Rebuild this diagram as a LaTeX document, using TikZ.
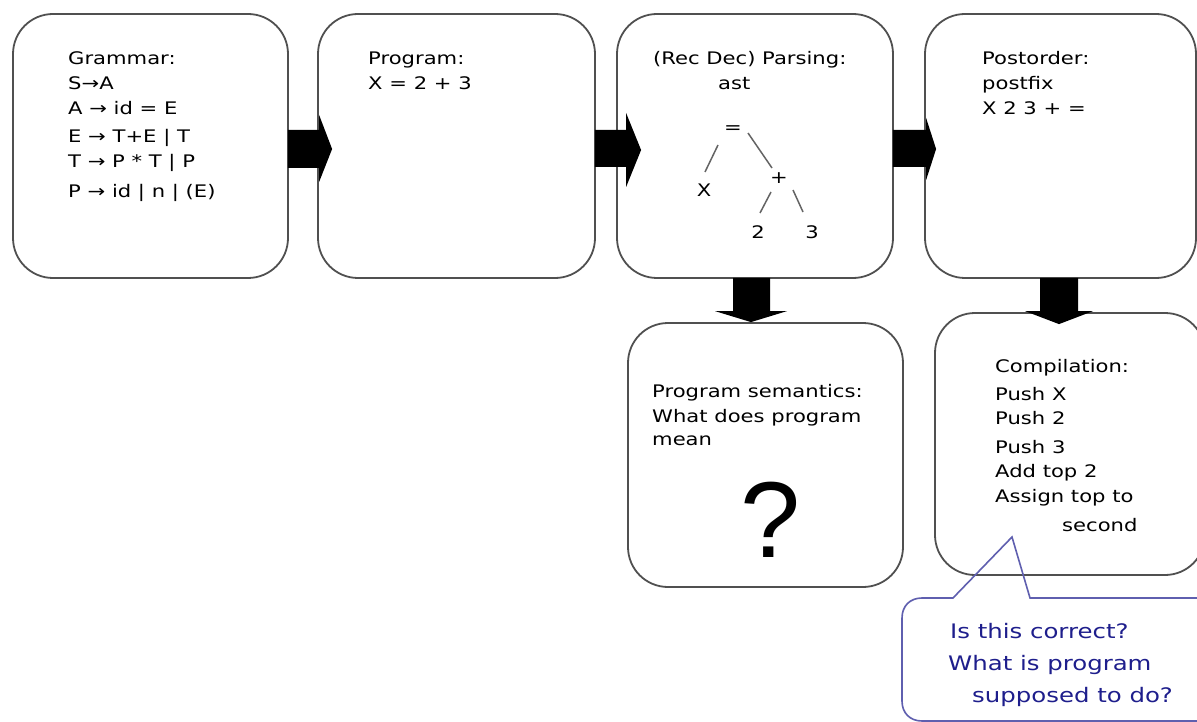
\documentclass[tikz,border=0pt]{standalone}
\usepackage{fontspec}
\setmainfont{DejaVu Sans}[FakeStretch=1.22]
\newfontfamily\qfont{Liberation Sans}
\usetikzlibrary{calc}
\definecolor{boxline}{RGB}{80,80,80}
\definecolor{treeline}{RGB}{100,100,100}
\definecolor{bubbleline}{RGB}{95,95,175}
\definecolor{bubbletext}{RGB}{30,30,140}
\begin{document}
\begin{tikzpicture}[x=1pt,y=-1pt,
 box/.style={draw=boxline, line width=1.8pt, rounded corners=40pt, inner sep=0pt},
 txt/.style={anchor=base west, inner sep=0pt, font=\fontsize{17.3}{20}\selectfont},
 tlab/.style={inner sep=0pt, font=\fontsize{17.3}{20}\selectfont},
 tedge/.style={draw=treeline, line width=1.5pt},
 blockarrow/.style={fill=black},
 bubble/.style={draw=bubbleline, line width=1.6pt},
 btxt/.style={anchor=base west, inner sep=0pt, text=bubbletext, font=\fontsize{20}{24}\selectfont}]
\useasboundingbox (0,0) rectangle (1197,722);
\clip (0,0) rectangle (1197,722);
\fill[white] (0,0) rectangle (1197,722);

% boxes
\node[box, minimum width=275pt, minimum height=264pt] (b1) at (150.5,146) {};
\node[box, minimum width=277pt, minimum height=264pt] (b2) at (456.5,146) {};
\node[box, minimum width=276pt, minimum height=264pt] (b3) at (755,146) {};
\node[box, minimum width=271pt, minimum height=264pt] (b4) at (1060.5,146) {};
\node[box, minimum width=275pt, minimum height=264pt] (b5) at (765.5,455) {};
\node[box, minimum width=270pt, minimum height=262pt] (b6) at (1070,444) {};

% box 1 text
\node[txt] (g1) at (68,65) {Grammar:};
\node[txt] (g2) at (68,90) {S→A};
\node[txt] (g3) at (68,115) {A → id = E};
\node[txt] (g4) at (68,143) {E → T+E | T};
\node[txt] (g5) at (68,168) {T → P * T | P};
\node[txt] (g6) at (68,198) {P → id | n | (E)};

% box 2 text
\node[txt] (p1) at (368,65) {Program:};
\node[txt] (p2) at (368,90) {X = 2 + 3};

% box 3 text and tree
\node[txt] (r1) at (653,65) {(Rec Dec) Parsing:};
\node[txt] (r2) at (718,90) {ast};
\node[tlab] (eq) at (733,130) {=};
\node[tlab] (tx) at (704,190) {X};
\node[tlab] (pl) at (779,178) {+};
\node[tlab] (t2) at (758,232) {2};
\node[tlab] (t3) at (812,232) {3};
\draw[tedge] ($(eq)+(-15,15)$) -- ($(tx)+(1,-18)$);
\draw[tedge] ($(eq)+(15,3)$) -- ($(pl)+(-7,-10)$);
\draw[tedge] ($(pl)+(-8,14)$) -- ($(t2)+(2,-19)$);
\draw[tedge] ($(pl)+(14,12)$) -- ($(t3)+(-9,-20)$);

% box 4 text
\node[txt] (q1) at (982,65) {Postorder:};
\node[txt] (q2) at (982,90) {postfix};
\node[txt] (q3) at (982,115) {X 2 3 + =};

% box 5 text
\node[txt] (s1) at (652,397) {Program semantics:};
\node[txt] (s2) at (652,422) {What does program};
\node[txt] (s3) at (652,445) {mean};
\node[anchor=base, inner sep=0pt, font=\qfont\fontsize{108}{108}\selectfont] (qm) at (771,557) {?};

% box 6 text
\node[txt] (c1) at (995,372) {Compilation:};
\node[txt] (c2) at (995,400) {Push X};
\node[txt] (c3) at (995,424) {Push 2};
\node[txt] (c4) at (995,453) {Push 3};
\node[txt] (c5) at (995,477) {Add top 2};
\node[txt] (c6) at (995,502) {Assign top to};
\node[txt] (c7) at (1062,531) {second};

% block arrows
\fill[blockarrow] ($(b1.east)+(-1,-16)$) -- ($(b2.west)+(2,-16)$) -- ($(b2.west)+(2,-31)$)
  -- ($(b2.west)+(15,3)$) -- ($(b2.west)+(2,36)$) -- ($(b2.west)+(2,22)$) -- ($(b1.east)+(-1,22)$) -- cycle;
\fill[blockarrow] ($(b2.east)+(-1,-16)$) -- ($(b3.west)+(10,-16)$) -- ($(b3.west)+(10,-33)$)
  -- ($(b3.west)+(25,4)$) -- ($(b3.west)+(10,41)$) -- ($(b3.west)+(10,21)$) -- ($(b2.east)+(-1,21)$) -- cycle;
\fill[blockarrow] ($(b3.east)+(-1,-16)$) -- ($(b4.west)+(2,-16)$) -- ($(b4.west)+(2,-28)$)
  -- ($(b4.west)+(12,3)$) -- ($(b4.west)+(2,34)$) -- ($(b4.west)+(2,21)$) -- ($(b3.east)+(-1,21)$) -- cycle;
\fill[blockarrow] ($(b3.south)+(-22,-1)$) -- ($(b3.south |- b5.north)+(-22,-11)$) -- ($(b3.south |- b5.north)+(-40,-11)$)
  -- ($(b3.south |- b5.north)+(-4,0)$) -- ($(b3.south |- b5.north)+(32,-11)$) -- ($(b3.south |- b5.north)+(15,-11)$) -- ($(b3.south)+(15,-1)$) -- cycle;
\fill[blockarrow] ($(b4.south)+(-20.5,-1)$) -- ($(b4.south |- b6.north)+(-20.5,-1)$) -- ($(b4.south |- b6.north)+(-35.5,-1)$)
  -- ($(b4.south |- b6.north)+(-1.5,12)$) -- ($(b4.south |- b6.north)+(32.5,-1)$) -- ($(b4.south |- b6.north)+(17.5,-1)$) -- ($(b4.south)+(17.5,-1)$) -- cycle;

% callout bubble
\coordinate (ptip) at (1012,537);
\draw[bubble] (953,598) -- (ptip) -- (1030,598) -- (1230,598) -- (1230,721) -- (922,721)
  .. controls (910,721) and (902,713) .. (902,701) -- (902,618)
  .. controls (902,606) and (910,598) .. (922,598) -- cycle;
\node[btxt] (k1) at (950,638) {Is this correct?};
\node[btxt] (k2) at (948,670) {What is program};
\node[btxt] (k3) at (972,702) {supposed to do?};
\end{tikzpicture}
\end{document}
